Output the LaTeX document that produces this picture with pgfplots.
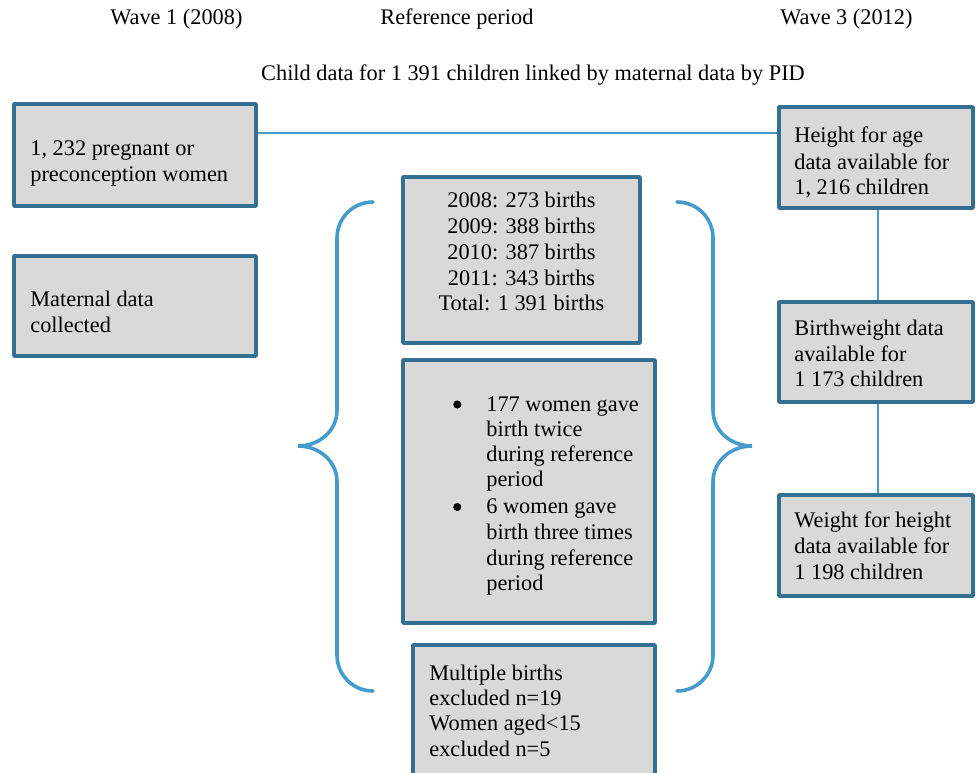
\documentclass[border=0pt]{standalone}
\usepackage{fontspec}
\setmainfont{Liberation Serif}
\usepackage{pgfplots}
\pgfplotsset{compat=1.18}
\definecolor{boxedge}{RGB}{52,112,145}
\definecolor{boxfill}{RGB}{217,217,217}
\definecolor{link}{RGB}{70,155,205}
\tikzset{
  txt/.style={anchor=base west, inner sep=0pt, font=\fontsize{11.2}{13}\selectfont},
  ctxt/.style={anchor=base, inner sep=0pt, font=\fontsize{11.2}{13}\selectfont},
}
\pgfplotsset{
  box/.style={draw=boxedge, fill=boxfill, line width=1.75bp, line join=round},
  conn/.style={draw=link, line width=1.2bp},
}
\begin{document}
\begin{tikzpicture}
\begin{axis}[
  scale only axis, width=488bp, height=386.5bp,
  xmin=0, xmax=976, ymin=0, ymax=773, y dir=reverse,
  hide axis, clip=false,
]
% connectors
\addplot[conn] coordinates {(256,133) (779,133)};
\addplot[conn] coordinates {(878,208) (878,302)};
\addplot[conn] coordinates {(878,402) (878,495)};
% braces
\draw[link, line width=1.8bp, line cap=round]
  (axis cs:373,202) .. controls (axis cs:353,202) and (axis cs:337,218) .. (axis cs:337,238)
  -- (axis cs:337,410) .. controls (axis cs:337,432) and (axis cs:318,446) .. (axis cs:298,446)
  .. controls (axis cs:318,446) and (axis cs:337,460) .. (axis cs:337,482)
  -- (axis cs:337,655) .. controls (axis cs:337,675) and (axis cs:353,691) .. (axis cs:373,691);
\draw[link, line width=1.8bp, line cap=round]
  (axis cs:677,202) .. controls (axis cs:697,202) and (axis cs:713,218) .. (axis cs:713,238)
  -- (axis cs:713,410) .. controls (axis cs:713,432) and (axis cs:732,446) .. (axis cs:752,446)
  .. controls (axis cs:732,446) and (axis cs:713,460) .. (axis cs:713,482)
  -- (axis cs:713,655) .. controls (axis cs:713,675) and (axis cs:697,691) .. (axis cs:677,691);
% boxes
\addplot[box] coordinates {(14,104) (256,104) (256,206) (14,206)} -- cycle;
\addplot[box] coordinates {(14,256) (256,256) (256,356) (14,356)} -- cycle;
\addplot[box] coordinates {(403,177) (640,177) (640,343) (403,343)} -- cycle;
\addplot[box] coordinates {(403,360) (655,360) (655,623) (403,623)} -- cycle;
\addplot[fill=boxfill, draw=none] coordinates {(413,645) (655,645) (655,773) (413,773)} -- cycle;
\addplot[draw=boxedge, line width=1.75bp, line join=round] coordinates {(413,773) (413,645) (655,645) (655,773)};
\addplot[box] coordinates {(779,107) (973,107) (973,208) (779,208)} -- cycle;
\addplot[box] coordinates {(779,302) (973,302) (973,402) (779,402)} -- cycle;
\addplot[box] coordinates {(779,495) (973,495) (973,596) (779,596)} -- cycle;
% bullets
\addplot[only marks, mark=*, mark size=1.8bp, black] coordinates {(457.3,404.5) (457.3,507)};
% headers
\node[txt] at (axis cs:110,25) {Wave 1 (2008)};
\node[txt] at (axis cs:380,25) {Reference period};
\node[txt] at (axis cs:780,25) {Wave 3 (2012)};
\node[ctxt] at (axis cs:533,80) {Child data for 1 391 children linked by maternal data by PID};
% box A
\node[txt] at (axis cs:30,155) {1, 232 pregnant or};
\node[txt] at (axis cs:30,181) {preconception women};
% box B
\node[txt] at (axis cs:30,306) {Maternal data};
\node[txt] at (axis cs:30,332) {collected};
% box C
\node[ctxt] at (axis cs:521.5,207.7) {2008: 273 births};
\node[ctxt] at (axis cs:521.5,233.3) {2009: 388 births};
\node[ctxt] at (axis cs:521.5,259.3) {2010: 387 births};
\node[ctxt] at (axis cs:521.5,285) {2011: 343 births};
\node[ctxt] at (axis cs:521.5,310.7) {Total: 1 391 births};
% box D
\node[txt] at (axis cs:486,411) {177 women gave};
\node[txt] at (axis cs:486,436) {birth twice};
\node[txt] at (axis cs:486,461.7) {during reference};
\node[txt] at (axis cs:486,486.7) {period};
\node[txt] at (axis cs:486,513.3) {6 women gave};
\node[txt] at (axis cs:486,539.3) {birth three times};
\node[txt] at (axis cs:486,565.7) {during reference};
\node[txt] at (axis cs:486,590.7) {period};
% box E
\node[txt] at (axis cs:429,680) {Multiple births};
\node[txt] at (axis cs:429,705.7) {excluded n=19};
\node[txt] at (axis cs:429,730.7) {Women aged<15};
\node[txt] at (axis cs:429,756.7) {excluded n=5};
% box F
\node[txt] at (axis cs:794,142.3) {Height for age};
\node[txt] at (axis cs:794,169) {data available for};
\node[txt] at (axis cs:794,194) {1, 216 children};
% box G
\node[txt] at (axis cs:794,335) {Birthweight data};
\node[txt] at (axis cs:794,361) {available for};
\node[txt] at (axis cs:794,386) {1 173 children};
% box H
\node[txt] at (axis cs:794,527.7) {Weight for height};
\node[txt] at (axis cs:794,553.3) {data available for};
\node[txt] at (axis cs:794,579.3) {1 198 children};
\end{axis}
\pgfresetboundingbox
\path (current axis.south west) rectangle (current axis.north east);
\end{tikzpicture}
\end{document}
